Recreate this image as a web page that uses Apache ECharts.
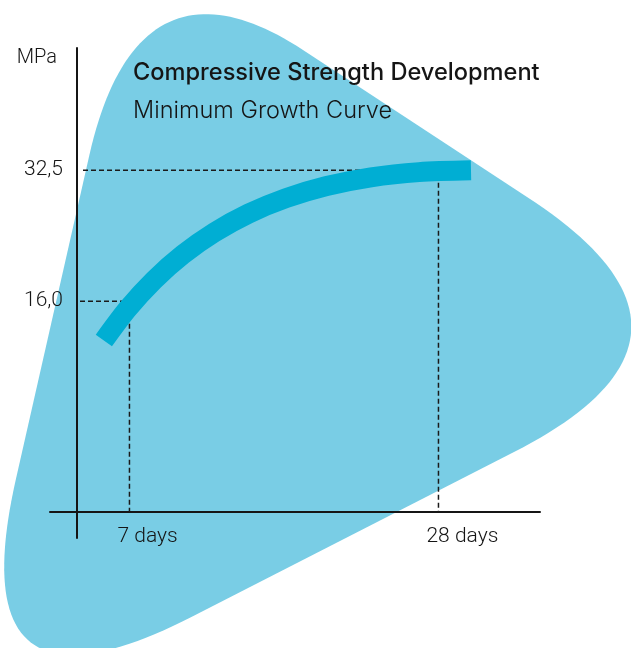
<!DOCTYPE html>
<html><head><meta charset="utf-8">
<script src="https://cdn.jsdelivr.net/npm/echarts@6/dist/echarts.min.js"></script>
<style>html,body{margin:0;padding:0;background:#fff;}#c{width:631px;height:648px;}</style>
</head><body><div id="c"></div>
<script>
// ---- data ----
const titleText = 'Compressive Strength Development';
const subtitleText = 'Minimum Growth Curve';
const yAxisName = 'MPa';
const xTickValues = [7, 28];          // days
const yTickValues = [16, 32.5];       // MPa
const curveDays = [5.26, 6.89, 8.67, 10.62, 12.76, 15.09, 17.64, 20.40, 23.41, 26.68, 30.21];
const curveMPa  = [11.04, 15.05, 18.66, 21.86, 24.65, 27.03, 28.98, 30.51, 31.61, 32.26, 32.49];

// ---- layout ----
const GRID = {left: 50, top: 48, width: 490, height: 490};
const X_RANGE = [1.6, 34.9];
const Y_RANGE = [-13.85, 47.9];
const X_AXIS_PIX = 512;   // y pixel of the horizontal axis line
const Y_AXIS_PIX = 77;    // x pixel of the vertical axis line
const yPerPx = (Y_RANGE[1] - Y_RANGE[0]) / GRID.height;
const xPerPx = (X_RANGE[1] - X_RANGE[0]) / GRID.width;
const xAxisAtY = Y_RANGE[0] + (GRID.top + GRID.height - X_AXIS_PIX) * yPerPx;
const yAxisAtX = X_RANGE[0] + (Y_AXIS_PIX - GRID.left) * xPerPx;

const FONT = 'Roboto';
const TITLE_FONT = 'Inter';
const INK = '#151515';

// decorative rounded-triangle backdrop (pixel geometry): bezier segments joined by straight edges
const BLOB = [
  [[89.4, 155], [122.4, 8.75], [198.6, -18.75], [303, 50]],
  [[527, 197], [742, 336], [514, 452]],
  [[191.4, 617], [-42, 736], [15.6, 480.5]]
];
function bez(pts, t) {
  let p = pts.map(q => q.slice());
  while (p.length > 1) {
    const n = [];
    for (let i = 0; i < p.length - 1; i++) {
      n.push([p[i][0] + (p[i + 1][0] - p[i][0]) * t, p[i][1] + (p[i + 1][1] - p[i][1]) * t]);
    }
    p = n;
  }
  return p[0];
}
function blobPoints() {
  const pts = [];
  BLOB.forEach(seg => { for (let i = 0; i <= 48; i++) pts.push(bez(seg, i / 48)); });
  return pts;
}

const guideSeries = [];
xTickValues.forEach((d, i) => {
  const m = yTickValues[i];
  const startX = yAxisAtX + (i === 0 ? 3 : 6) * xPerPx;
  guideSeries.push({
    type: 'line', silent: true, symbol: 'none', z: 2, animation: false,
    data: [[startX, m], [d, m], [d, xAxisAtY]],
    lineStyle: {color: '#1a1a1a', width: 1.5, type: [5, 3]}
  });
});

const chart = echarts.init(document.getElementById('c'), null, {renderer: 'canvas'});
chart.setOption({
  animation: false,
  backgroundColor: '#ffffff',
  graphic: {
    elements: [{
      type: 'polygon', z: -1, silent: true,
      shape: {points: blobPoints()},
      style: {fill: '#79cde5'}
    }]
  },
  title: [
    {text: titleText, left: 133, top: 61, padding: 0,
     textStyle: {fontFamily: TITLE_FONT, fontSize: 23.6, fontWeight: 500, color: INK}},
    {text: subtitleText, left: 133, top: 99, padding: 0,
     textStyle: {fontFamily: TITLE_FONT, fontSize: 23.5, fontWeight: 300, color: INK}}
  ],
  grid: GRID,
  xAxis: {
    type: 'value', min: X_RANGE[0], max: X_RANGE[1],
    offset: -(GRID.top + GRID.height - X_AXIS_PIX),
    axisLine: {show: true, onZero: false, lineStyle: {color: INK, width: 2}},
    axisTick: {show: false},
    splitLine: {show: false},
    axisLabel: {
      customValues: xTickValues, margin: 14,
      formatter: v => v + ' days',
      fontFamily: FONT, fontSize: 21, fontWeight: 300, color: INK,
      align: 'left', padding: [0, 0, 0, -12]
    }
  },
  yAxis: {
    type: 'value', min: Y_RANGE[0], max: Y_RANGE[1],
    offset: -(Y_AXIS_PIX - GRID.left),
    name: yAxisName, nameLocation: 'end', nameGap: 0,
    nameTextStyle: {fontFamily: FONT, fontSize: 20, fontWeight: 300, color: INK,
                    align: 'right', verticalAlign: 'top', padding: [0, 20, 0, 0]},
    axisLine: {show: true, onZero: false, lineStyle: {color: INK, width: 2}},
    axisTick: {show: false},
    splitLine: {show: false},
    axisLabel: {
      customValues: yTickValues, margin: 14,
      formatter: v => v.toFixed(1).replace('.', ','),
      fontFamily: FONT, fontSize: 21, fontWeight: 300, color: INK
    }
  },
  series: guideSeries.concat([{
    type: 'line', silent: true, symbol: 'none', z: 3, smooth: 0.3,
    data: curveDays.map((d, i) => [d, curveMPa[i]]),
    lineStyle: {color: '#00aed3', width: 20, cap: 'butt'}
  }])
});
</script></body></html>
